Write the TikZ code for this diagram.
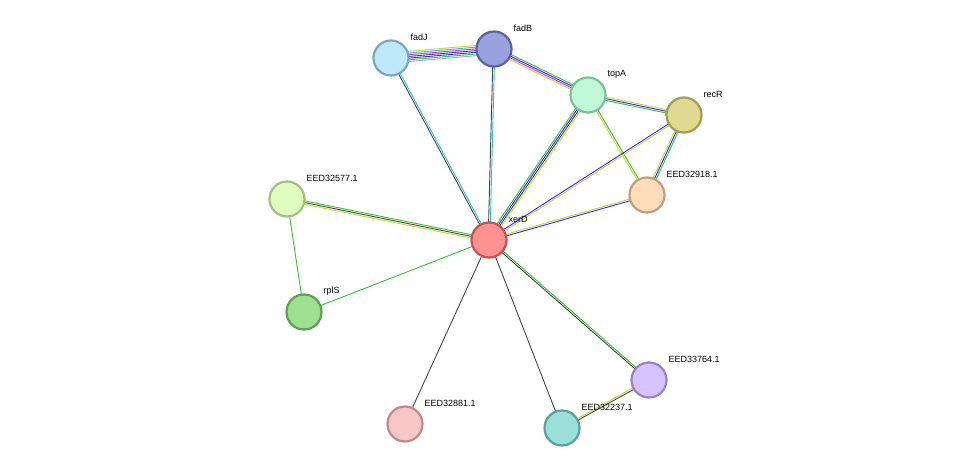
\documentclass[tikz,border=0pt]{standalone}
\usepackage{fontspec}
\setmainfont{Liberation Sans}
\usetikzlibrary{calc}
\definecolor{cy}{HTML}{C8D42C}\definecolor{cg}{HTML}{33C033}\definecolor{cb}{HTML}{2A2AF0}
\definecolor{ck}{HTML}{444444}\definecolor{cm}{HTML}{E020E0}\definecolor{cc}{HTML}{30B8D8}
\definecolor{cl}{HTML}{A0A0FF}
\newcommand{\medge}[4]{\foreach \cc [count=\ii] in {#4}{\pgfmathsetmacro\oo{(\ii-1-(#3-1)/2)*1.7}
 \draw[draw=\cc,line width=0.9pt] ($(#1)!\oo pt!90:(#2)$) -- ($(#2)!\oo pt!-90:(#1)$);}}
\begin{document}
\begin{tikzpicture}[x=1pt,y=-1pt,
 prot/.style 2 args={circle,minimum size=35pt,inner sep=0,line width=2.2pt,fill=#1,draw=#2},
 lab/.style={font=\fontsize{9}{10}\selectfont,anchor=west}]
\useasboundingbox (0,0) rectangle (975,474);
\path (391,58) coordinate (fadJ) (494,49) coordinate (fadB) (588,95) coordinate (topA)
 (684,115) coordinate (recR) (647,195) coordinate (e918) (489,240) coordinate (xerD)
 (287,199) coordinate (e577) (304,312) coordinate (rplS) (649,380) coordinate (e764)
 (562,428) coordinate (e237) (405,424) coordinate (e881);
\medge{fadJ}{fadB}{7}{cl,cg,cb,ck,cm,cc,cy}
\medge{fadB}{topA}{4}{cy,cm,cb,cg}
\medge{topA}{recR}{3}{cg,cb,cy}
\medge{topA}{e918}{2}{cy,cg}
\medge{recR}{e918}{3}{cy,cb,cg}
\medge{recR}{xerD}{2}{cb,cy}
\medge{e918}{xerD}{2}{cy,cb}
\medge{topA}{xerD}{4}{cg,cb,ck,cy}
\medge{fadJ}{xerD}{2}{ck,cc}
\medge{fadB}{xerD}{2}{ck,cc}
\medge{e577}{xerD}{3}{cy,ck,cg}
\medge{e577}{rplS}{1}{cg}
\medge{rplS}{xerD}{1}{cg}
\medge{xerD}{e764}{2}{ck,cg}
\medge{xerD}{e237}{1}{ck}
\medge{xerD}{e881}{1}{ck}
\medge{e764}{e237}{2}{cy,ck}
\foreach \n/\f/\s/\t in {fadJ/C0E8FB/7BA7C4/fadJ,fadB/9AA1DE/5A63A0/fadB,topA/BFF9D8/7DBF97/topA,
 recR/DFD994/A19C56/recR,e918/FFDCBA/C09F7E/EED32918.1,xerD/FF9191/C85050/xerD,
 e577/E0FDC0/A2C086/EED32577.1,rplS/9EDF91/5E9F55/rplS,e764/D5C4FF/9584C8/EED33764.1,
 e237/9ADFD8/5D9F99/EED32237.1,e881/F7C7C7/C08A8A/EED32881.1}{
 \definecolor{ff}{HTML}{\f}\definecolor{ss}{HTML}{\s}
 \node[prot={ff}{ss}] (N\n) at (\n) {};
 \node[lab] (L\n) at ($(\n)+(16,-21)$) {\t};}
\end{tikzpicture}
\end{document}
